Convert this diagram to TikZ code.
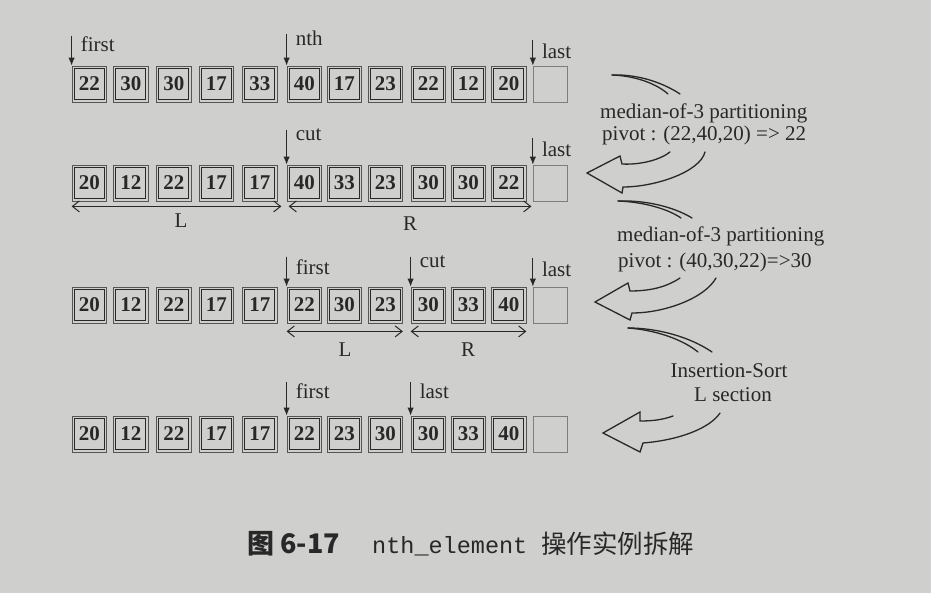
\documentclass[tikz,border=0pt]{standalone}
\usepackage{fontspec}
\setmainfont{Liberation Serif}
\setmonofont{Liberation Mono}
\newfontfamily\cjk{Noto Sans CJK SC}
\usetikzlibrary{arrows.meta}
\definecolor{bg}{RGB}{207,207,205}
\definecolor{ink}{RGB}{40,40,40}
\definecolor{mid}{RGB}{85,85,85}
\definecolor{faint}{RGB}{125,125,125}
\tikzset{
 cellbox/.style={draw=mid, line width=0.8pt,
   minimum width=34.5pt, minimum height=36pt, inner sep=0pt,
   font=\fontsize{21}{21}\selectfont\bfseries, text=ink},
 innerframe/.style={draw=ink, line width=1pt},
 emptybox/.style={draw=faint, line width=0.8pt, minimum width=34pt, minimum height=36pt, inner sep=0pt},
 ptr/.style={draw=ink, line width=1.1pt, -{Latex[length=8pt,width=6.5pt]}},
 lbl/.style={font=\fontsize{21}{21}\selectfont, text=ink, inner sep=0pt, anchor=west},
 spanarrow/.style={draw=ink, line width=1pt,
   {Straight Barb[length=7pt,width=11pt]}-{Straight Barb[length=7pt,width=11pt]}},
 notetext/.style={font=\fontsize{21}{21}\selectfont, text=ink, inner sep=0pt},
 hollowarrow/.style={draw=ink, line width=1.3pt, line join=miter, line cap=round},
}
\newcommand\arrayrow[3]{%
  \foreach \v [count=\i from 0] in {#3} {
    \pgfmathsetmacro\xl{{72,113.5,156.5,199,242.5,287,327,368,411,451,491.5}[\i]}
    \node[cellbox] (#1-\i) at (\xl+17.25,#2+18) {\v};
    \draw[innerframe] ([shift={(2.6,2.6)}]#1-\i.north west) rectangle ([shift={(-2.6,-2.6)}]#1-\i.south east);
  }
  \node[emptybox] (#1-11) at (533+17.25,#2+18) {};
}
\newcommand\pointer[5]{%
  \draw[ptr] ([yshift=#2pt]#1) -- (#1);
  \node[lbl] (#5) at ([xshift=9pt,yshift=#3pt]#1) {#4};
}
\begin{document}
\begin{tikzpicture}[x=1pt,y=-1pt]
\fill[bg] (0,0) rectangle (931,593);
\useasboundingbox (0,0) rectangle (931,593);

% rows of cells
\arrayrow{ra}{66}{22,30,30,17,33,40,17,23,22,12,20}
\arrayrow{rb}{165}{20,12,22,17,17,40,33,23,30,30,22}
\arrayrow{rc}{287}{20,12,22,17,17,22,30,23,30,33,40}
\arrayrow{rd}{416}{20,12,22,17,17,22,23,30,30,33,40}

% pointers
\pointer{ra-0.north west}{30}{21}{first}{pa1}
\pointer{ra-5.north west}{32}{27}{nth}{pa2}
\pointer{ra-11.north west}{26}{14}{last}{pa3}
\pointer{rb-5.north west}{35}{30}{cut}{pb1}
\pointer{rb-11.north west}{27}{15}{last}{pb2}
\pointer{rc-5.north west}{30}{19}{first}{pc1}
\pointer{rc-8.north west}{30}{25}{cut}{pc2}
\pointer{rc-11.north west}{29}{17}{last}{pc3}
\pointer{rd-5.north west}{34}{24}{first}{pd1}
\pointer{rd-8.north west}{34}{24}{last}{pd2}

% L / R spans
\draw[spanarrow] ([yshift=-5pt]rb-0.south west) -- ([yshift=-5pt,xshift=4pt]rb-4.south east);
\draw[spanarrow] ([yshift=-5pt,xshift=2pt]rb-5.south west) -- ([yshift=-5pt,xshift=5pt]rb-10.south east);
\node[lbl,anchor=center] (sbL) at (181,221) {L};
\node[lbl,anchor=center] (sbR) at (410,224) {R};
\draw[spanarrow] ([yshift=-8pt]rc-5.south west) -- ([yshift=-8pt]rc-7.south east);
\draw[spanarrow] ([yshift=-8pt]rc-8.south west) -- ([yshift=-8pt]rc-10.south east);
\node[lbl,anchor=center] (scL) at (345,350) {L};
\node[lbl,anchor=center] (scR) at (468,350) {R};

% notes
\node[notetext,anchor=base west] (t1a) at (600,119) {median-of-3 partitioning};
\node[notetext,anchor=base west] (t1b) at (602,141) {pivot : (22,40,20) => 22};
\node[notetext,anchor=base west] (t2a) at (617,242) {median-of-3 partitioning};
\node[notetext,anchor=base west] (t2b) at (618,268) {pivot : (40,30,22)=>30};
\node[notetext,anchor=base] (t3a) at (729,377) {Insertion-Sort};
\node[notetext,anchor=base] (t3b) at (733,401) {L section};

% hollow curved arrows
\draw[hollowarrow] (612,75) .. controls (640,74) and (665,84) .. (680,94);
\draw[hollowarrow] (612,75) .. controls (638,76) and (658,85) .. (668,94);
\draw[hollowarrow] (670,152) .. controls (660,160) and (640,165) .. (622,164) -- (620,156) -- (587,173)
   -- (622,193) -- (623,187) .. controls (655,187) and (700,172) .. (705,152);

\draw[hollowarrow] (618,201) .. controls (646,200) and (674,207) .. (692,218);
\draw[hollowarrow] (618,201) .. controls (644,202) and (668,209) .. (681,218);
\draw[hollowarrow] (680,278) .. controls (665,288) and (648,291) .. (630,291) -- (628,283) -- (595,302)
   -- (630,320) -- (632,313) .. controls (665,313) and (705,298) .. (716,278);

\draw[hollowarrow] (628,328) .. controls (658,328) and (690,337) .. (712,352);
\draw[hollowarrow] (628,328) .. controls (655,330) and (682,339) .. (698,352);
\draw[hollowarrow] (673,416) .. controls (662,420) and (652,421) .. (640,421) -- (640,412) -- (603,433)
   -- (640,452) -- (643,443) .. controls (680,440) and (710,428) .. (720,413);

% caption
\node[inner sep=0pt,anchor=base west,text=ink,font=\fontsize{27}{27}\selectfont\cjk\bfseries] (cap1) at (247,553) {图 6-17};
\node[inner sep=0pt,anchor=base west,text=ink,font=\fontsize{23.5}{23.5}\selectfont\ttfamily] (cap2) at (372,553) {nth\_element};
\node[inner sep=0pt,anchor=base west,text=ink,font=\fontsize{25.5}{25.5}\selectfont\cjk] (cap3) at (541,553) {操作实例拆解};
\end{tikzpicture}
\end{document}
